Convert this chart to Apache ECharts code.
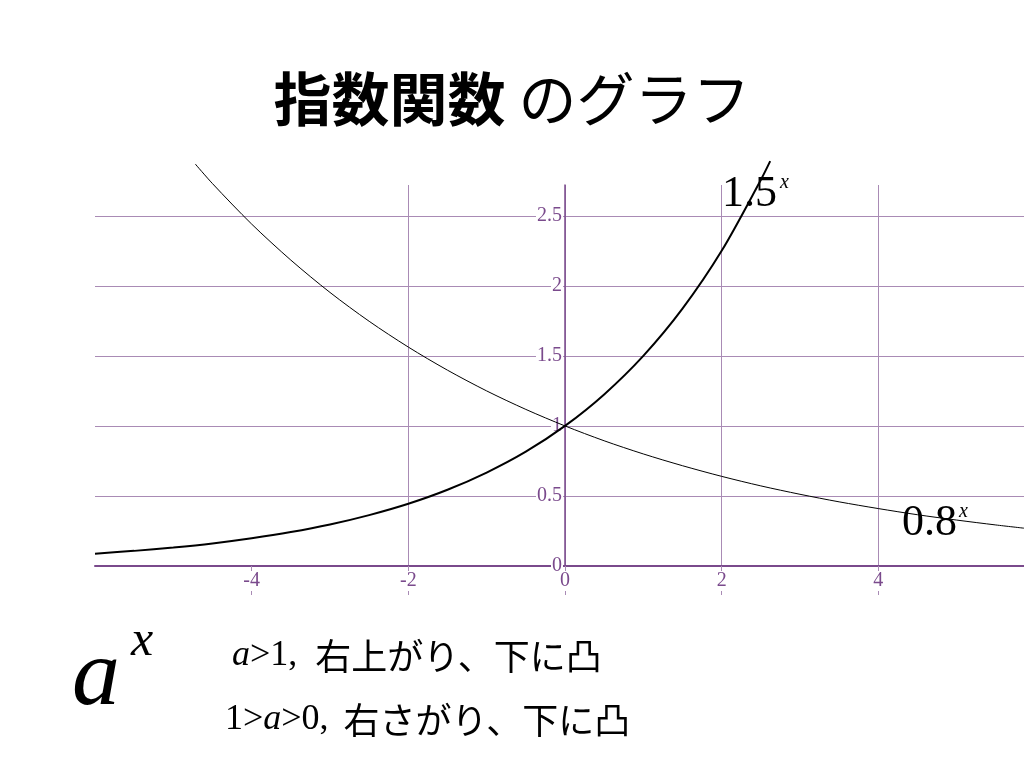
<!DOCTYPE html>
<html>
<head>
<meta charset="utf-8">
<title>指数関数 のグラフ</title>
<script src="https://cdn.jsdelivr.net/npm/echarts@6/dist/echarts.min.js"></script>
<style>
  html, body { margin: 0; padding: 0; background: #fff; }
  #chart { width: 1024px; height: 768px; }
</style>
</head>
<body>
<div id="chart"></div>
<script>
// sample points
const xGrow = [-6, -5.5, -5, -4.5, -4, -3.5, -3, -2.5, -2, -1.5, -1, -0.5, 0, 0.5, 1, 1.5, 2, 2.5, 2.62];
const yGrow = [0.088, 0.108, 0.132, 0.161, 0.198, 0.242, 0.296, 0.363, 0.444, 0.544, 0.667, 0.816, 1, 1.225, 1.5, 1.837, 2.25, 2.756, 2.89];

const xDecay = [-4.72, -4.5, -4, -3.5, -3, -2.5, -2, -1.5, -1, -0.5, 0, 0.5, 1, 1.5, 2, 2.5, 3, 3.5, 4, 4.5, 5, 5.5, 5.86];
const yDecay = [2.87, 2.73, 2.441, 2.184, 1.953, 1.747, 1.563, 1.398, 1.25, 1.118, 1, 0.894, 0.8, 0.716, 0.64, 0.572, 0.512, 0.458, 0.41, 0.366, 0.328, 0.293, 0.27];

const xTickLabels = [-4, -2, 0, 2, 4];
const yTickLabels = [0, 0.5, 1, 1.5, 2, 2.5];

const PURPLE = '#7a4a8c';
const GRIDLINE = '#a98bb5';
const SERIF = '"Liberation Serif", "DejaVu Serif", serif';
const JP = '"Noto Sans CJK JP", sans-serif';

const chart = echarts.init(document.getElementById('chart'));

const pairs = (xs, ys) => xs.map((x, i) => [x, ys[i]]);

// grid: x = -6 sits at 95px, 78.33px per unit, so x = 0 lands at 565px
const GRID_LEFT = 95;
const ZERO_X = 565;

const option = {
  backgroundColor: '#fff',
  animation: false,
  grid: { left: GRID_LEFT, top: 185, right: 0, height: 381 },
  xAxis: {
    type: 'value',
    min: -6,
    max: 5.86,
    interval: 2,
    axisLine: { onZero: false, lineStyle: { color: PURPLE, width: 2 } },
    axisTick: {
      show: true,
      inside: false,
      length: 29,
      customValues: xTickLabels,
      lineStyle: { color: GRIDLINE, width: 1 }
    },
    axisLabel: {
      customValues: xTickLabels,
      color: PURPLE,
      fontFamily: SERIF,
      fontSize: 20,
      margin: 5,
      backgroundColor: '#fff',
      padding: [0, 1]
    },
    splitLine: {
      show: true,
      // first line (x = -6) is the left edge and is not drawn
      lineStyle: { color: ['transparent', GRIDLINE, GRIDLINE, GRIDLINE, GRIDLINE, GRIDLINE, 'transparent'], width: 1 }
    }
  },
  yAxis: {
    type: 'value',
    min: 0,
    max: 2.72,
    interval: 0.5,
    offset: -(ZERO_X - GRID_LEFT),
    axisLine: { show: true, onZero: false, lineStyle: { color: PURPLE, width: 1.5 } },
    axisTick: { show: false },
    axisLabel: {
      customValues: yTickLabels,
      color: PURPLE,
      fontFamily: SERIF,
      fontSize: 20,
      margin: 2,
      backgroundColor: '#fff',
      padding: [0, 1]
    },
    splitLine: {
      show: true,
      // last line is the top boundary (2.72), not drawn
      lineStyle: { color: [GRIDLINE, GRIDLINE, GRIDLINE, GRIDLINE, GRIDLINE, GRIDLINE, 'transparent'], width: 1 }
    }
  },
  series: [
    {
      name: '1.5^x',
      type: 'line',
      data: pairs(xGrow, yGrow),
      smooth: 0.3,
      showSymbol: false,
      clip: false,
      lineStyle: { color: '#000', width: 2 },
      z: 5
    },
    {
      name: '0.8^x',
      type: 'line',
      data: pairs(xDecay, yDecay),
      smooth: 0.3,
      showSymbol: false,
      clip: false,
      lineStyle: { color: '#000', width: 1 },
      z: 5
    }
  ],
  graphic: [
    {
      type: 'text',
      left: 'center',
      top: 70,
      style: {
        text: '{b|指数関数}{n| のグラフ}',
        rich: {
          b: { fontFamily: JP, fontWeight: 'bold', fontSize: 58, fill: '#000' },
          n: { fontFamily: JP, fontWeight: 'normal', fontSize: 58, fill: '#000' }
        }
      }
    },
    {
      type: 'text', x: 722, y: 172, z: 10,
      style: {
        text: '{n|1.5}{s|x}',
        rich: {
          n: { fontFamily: SERIF, fontSize: 44, fill: '#000' },
          s: { fontFamily: SERIF, fontStyle: 'italic', fontSize: 20, fill: '#000', padding: [0, 0, 22, 3] }
        }
      }
    },
    {
      type: 'text', x: 902, y: 501, z: 10,
      style: {
        text: '{n|0.8}{s|x}',
        rich: {
          n: { fontFamily: SERIF, fontSize: 44, fill: '#000' },
          s: { fontFamily: SERIF, fontStyle: 'italic', fontSize: 20, fill: '#000', padding: [0, 0, 22, 2] }
        }
      }
    },
    {
      type: 'text', x: 72, y: 631,
      style: { text: 'a', fontFamily: SERIF, fontStyle: 'italic', fontSize: 96, fill: '#000' }
    },
    {
      type: 'text', x: 131, y: 617,
      style: { text: 'x', fontFamily: SERIF, fontStyle: 'italic', fontSize: 50, fill: '#000' }
    },
    {
      type: 'text', x: 232, y: 638,
      style: {
        text: '{i|a}{r|>1,}{j|右上がり、下に凸}',
        rich: {
          i: { fontFamily: SERIF, fontStyle: 'italic', fontSize: 36, fill: '#000' },
          r: { fontFamily: SERIF, fontSize: 36, fill: '#000' },
          j: { fontFamily: JP, fontSize: 36, fill: '#000', padding: [0, 0, 0, 18] }
        }
      }
    },
    {
      type: 'text', x: 225, y: 702,
      style: {
        text: '{r|1>}{i|a}{r|>0,}{j|右さがり、下に凸}',
        rich: {
          i: { fontFamily: SERIF, fontStyle: 'italic', fontSize: 36, fill: '#000' },
          r: { fontFamily: SERIF, fontSize: 36, fill: '#000' },
          j: { fontFamily: JP, fontSize: 36, fill: '#000', padding: [0, 0, 0, 15] }
        }
      }
    }
  ]
};

chart.setOption(option);
</script>
</body>
</html>
